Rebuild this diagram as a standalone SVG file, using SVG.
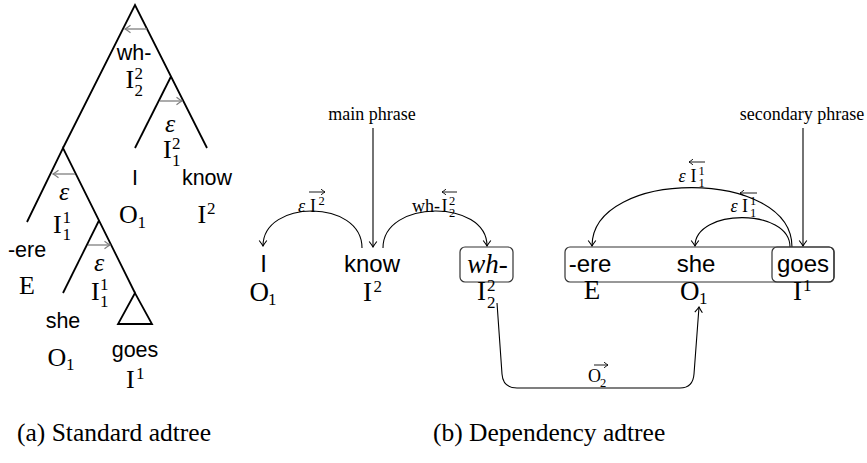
<svg xmlns="http://www.w3.org/2000/svg" width="867" height="463" viewBox="0 0 867 463">
<defs>
<style>
.s{font-family:"Liberation Sans",Arial,sans-serif;fill:#000}
.sl{font-size:21.5px}
.sr{font-size:24px}
.m{font-family:"Liberation Serif","Times New Roman",serif;fill:#000}
.ml{font-size:26px}
.mr{font-size:27px}
.sc{font-size:17px}
.lb{font-family:"Liberation Serif","Times New Roman",serif;font-size:18px;fill:#000}
.lbs{font-size:12.5px}
.it{font-style:italic}
.tree{fill:none;stroke:#000;stroke-width:1.8;stroke-linejoin:miter}
.garr{fill:none;stroke:#7f7f7f;stroke-width:1.3}
.conn{fill:none;stroke:#000;stroke-width:1.1}
.ov{fill:none;stroke:#000;stroke-width:0.9}
.box{fill:none;stroke:#333;stroke-width:1.2}
.cap{font-family:"Liberation Serif","Times New Roman",serif;font-size:25.5px;fill:#000}
</style>
<marker id="ah" viewBox="-7 -5 8 10" markerWidth="8" markerHeight="10" refX="0" refY="0" orient="auto" markerUnits="userSpaceOnUse">
<path d="M-5.5,-3.8 Q-1.5,-0.8 0,0 Q-1.5,0.8 -5.5,3.8" fill="none" stroke="#000" stroke-width="1.1"/>
</marker>
<marker id="ag" viewBox="-7 -5 8 10" markerWidth="8" markerHeight="10" refX="0" refY="0" orient="auto" markerUnits="userSpaceOnUse">
<path d="M-5.5,-3.8 Q-1.5,-0.8 0,0 Q-1.5,0.8 -5.5,3.8" fill="none" stroke="#7f7f7f" stroke-width="1.2"/>
</marker>
<marker id="as" viewBox="-6 -4 7 8" markerWidth="7" markerHeight="8" refX="0" refY="0" orient="auto" markerUnits="userSpaceOnUse">
<path d="M-4,-2.8 Q-1,-0.6 0,0 Q-1,0.6 -4,2.8" fill="none" stroke="#000" stroke-width="0.9"/>
</marker>
</defs>

<!-- (a) Standard adtree -->
<g id="tree-a">
<g id="a-lines">
<path class="tree" d="M63,148 L135,5 L207,148"/>
<path class="tree" d="M135,148 L171,76.5"/>
<path class="tree" d="M27,222 L63,148 L135,293"/>
<path class="tree" d="M63,293 L99,220.5"/>
<path class="tree" d="M135,293 L118,324 L152,324 Z"/>
</g>
<g id="a-arrows">
<path class="garr" d="M147,29 L125,29" marker-end="url(#ag)"/>
<path class="garr" d="M160,101 L182,101" marker-end="url(#ag)"/>
<path class="garr" d="M75,174 L53,174" marker-end="url(#ag)"/>
<path class="garr" d="M88,245 L110,245" marker-end="url(#ag)"/>
</g>
<g id="a-root">
<text class="s sl" x="134" y="60" text-anchor="middle">wh-</text>
<text class="m ml" x="125.5" y="88">I</text>
<text class="m sc" x="134.5" y="79">2</text>
<text class="m sc" x="134.5" y="96">2</text>
</g>
<g id="a-know-node">
<text class="m ml it" x="170" y="132" text-anchor="middle">ε</text>
<text class="m ml" x="163" y="158">I</text>
<text class="m sc" x="172" y="149">2</text>
<text class="m sc" x="172" y="166">1</text>
</g>
<g id="a-I">
<text class="s sl" x="135" y="185" text-anchor="middle">I</text>
<text class="m ml" x="119" y="223">O</text>
<text class="m sc" x="137.5" y="228">1</text>
</g>
<g id="a-know">
<text class="s sl" x="207" y="185" text-anchor="middle">know</text>
<text class="m ml" x="197.5" y="223">I</text>
<text class="m sc" x="207" y="214">2</text>
</g>
<g id="a-ere-node">
<text class="m ml it" x="64" y="200" text-anchor="middle">ε</text>
<text class="m ml" x="53" y="233">I</text>
<text class="m sc" x="62.5" y="223">1</text>
<text class="m sc" x="62.5" y="240">1</text>
</g>
<g id="a-ere">
<text class="s sl" x="27" y="257" text-anchor="middle">-ere</text>
<text class="m ml" x="27" y="294" text-anchor="middle">E</text>
</g>
<g id="a-she-node">
<text class="m ml it" x="99" y="271" text-anchor="middle">ε</text>
<text class="m ml" x="91" y="300">I</text>
<text class="m sc" x="100" y="290">1</text>
<text class="m sc" x="100" y="307">1</text>
</g>
<g id="a-she">
<text class="s sl" x="63" y="328" text-anchor="middle">she</text>
<text class="m ml" x="47.5" y="366">O</text>
<text class="m sc" x="66" y="370">1</text>
</g>
<g id="a-goes">
<text class="s sl" x="135" y="357" text-anchor="middle">goes</text>
<text class="m ml" x="126" y="388">I</text>
<text class="m sc" x="136" y="379">1</text>
</g>
</g>

<!-- (b) Dependency adtree -->
<g id="connectors">
<path class="conn" d="M373,128 L373,247" marker-end="url(#ah)"/>
<path class="conn" d="M803,128 L803,246" marker-end="url(#ah)"/>
<path class="conn" d="M362,248 C362,199 263,199 263,246" marker-end="url(#ah)"/>
<path class="conn" d="M383,248 C383,199 487,199 487,246" marker-end="url(#ah)"/>
<path class="conn" d="M792,247 C792,168 592,168 592,246" marker-end="url(#ah)"/>
<path class="conn" d="M790,247 C790,208 695,208 695,246" marker-end="url(#ah)"/>
<path class="conn" d="M497,303 L502,374 Q503,388 517,388 L680,388 Q693,388 694,374 L699,307" marker-end="url(#ah)"/>
</g>
<g id="labels">
<text class="lb" x="372" y="120" text-anchor="middle">main phrase</text>
<text class="lb" x="802" y="120" text-anchor="middle">secondary phrase</text>
<g id="lab-eps-I2">
<text class="lb it" x="298" y="212">ε</text>
<text class="lb" x="310" y="212">I</text>
<text class="lb lbs" x="318.5" y="205">2</text>
<path class="ov" d="M309,192 L325,192" marker-end="url(#as)"/>
</g>
<g id="lab-wh-I22">
<text class="lb" x="412" y="212">wh-</text>
<text class="lb" x="441.5" y="212">I</text>
<text class="lb lbs" x="449" y="205">2</text>
<text class="lb lbs" x="449" y="217">2</text>
<path class="ov" d="M457,192 L442,192" marker-end="url(#as)"/>
</g>
<g id="lab-eps-I11-outer">
<text class="lb it" x="678.5" y="182">ε</text>
<text class="lb" x="690.5" y="182">I</text>
<text class="lb lbs" x="698.5" y="175">1</text>
<text class="lb lbs" x="698.5" y="187">1</text>
<path class="ov" d="M705,162 L689,162" marker-end="url(#as)"/>
</g>
<g id="lab-eps-I11-inner">
<text class="lb it" x="730.5" y="212">ε</text>
<text class="lb" x="742" y="212">I</text>
<text class="lb lbs" x="750" y="205">1</text>
<text class="lb lbs" x="750" y="217">1</text>
<path class="ov" d="M757,193 L740,193" marker-end="url(#as)"/>
</g>
<g id="lab-O2">
<text class="lb" x="588" y="382">O</text>
<text class="lb lbs" x="600" y="387">2</text>
<path class="ov" d="M594,365 L608,365" marker-end="url(#as)"/>
</g>
</g>
<g id="b-I">
<text class="s sr" x="263.5" y="272" text-anchor="middle">I</text>
<text class="m mr" x="249.5" y="301">O</text>
<text class="m sc" x="268" y="305">1</text>
</g>
<g id="b-know">
<text class="s sr" x="372" y="272" text-anchor="middle">know</text>
<text class="m mr" x="363" y="301">I</text>
<text class="m sc" x="373.5" y="292">2</text>
</g>
<g id="b-wh">
<rect class="box" x="460" y="247" width="53" height="35" rx="5"/>
<text class="m mr it" x="487.5" y="273" text-anchor="middle">wh-</text>
<text class="m mr" x="477" y="300">I</text>
<text class="m sc" x="487" y="291">2</text>
<text class="m sc" x="487" y="308">2</text>
</g>
<g id="b-phrase">
<rect class="box" x="565" y="247" width="269" height="35" rx="5"/>
</g>
<g id="b-ere">
<text class="s sr" x="590" y="272" text-anchor="middle">-ere</text>
<text class="m mr" x="592" y="299" text-anchor="middle">E</text>
</g>
<g id="b-she">
<text class="s sr" x="696" y="272" text-anchor="middle">she</text>
<text class="m mr" x="680" y="300">O</text>
<text class="m sc" x="699" y="304">1</text>
</g>
<g id="b-goes">
<rect class="box" x="772" y="247" width="62" height="35" rx="5"/>
<text class="s sr" x="803" y="272" text-anchor="middle">goes</text>
<text class="m mr" x="793" y="300">I</text>
<text class="m sc" x="803" y="291">1</text>
</g>

<g id="captions">
<text class="cap" x="17" y="441">(a) Standard adtree</text>
<text class="cap" x="433" y="441">(b) Dependency adtree</text>
</g>
</svg>
